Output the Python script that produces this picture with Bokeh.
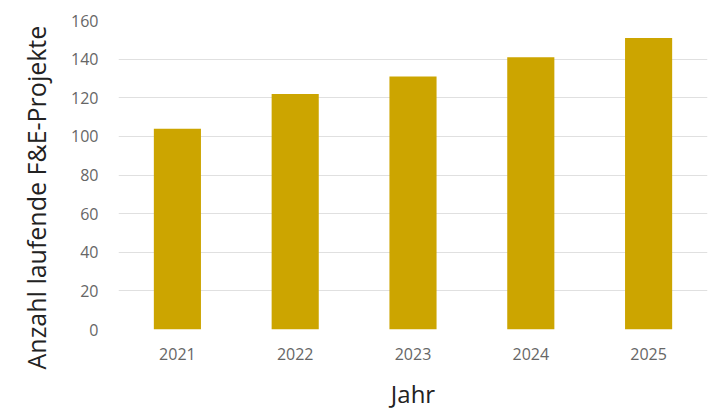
from bokeh.plotting import figure
from bokeh.models import FactorRange, Range1d, FixedTicker, ColumnDataSource, Title
from bokeh.embed import file_html
from bokeh.resources import INLINE

years = ["2021", "2022", "2023", "2024", "2025"]
projects = [104, 122, 131, 141, 151]
y_ticks = [0, 20, 40, 60, 80, 100, 120, 140, 160]

FONT = "Open Sans"

src = ColumnDataSource(dict(year=years, n=projects))

p = figure(width=712, height=412, output_backend="svg", toolbar_location=None,
           x_range=FactorRange(factors=years, range_padding=0),
           y_range=Range1d(0, 160),
           min_border_left=117, min_border_right=5, min_border_top=20, min_border_bottom=60)

p.vbar(x="year", top="n", width=0.4, source=src, color="#CCA500", line_color=None)

p.outline_line_color = None
p.xgrid.grid_line_color = None
p.ygrid.grid_line_color = "#e0e0e0"
p.ygrid.grid_line_width = 1
p.yaxis.ticker = FixedTicker(ticks=y_ticks)

for ax in (p.xaxis[0], p.yaxis[0]):
    ax.axis_line_color = None
    ax.major_tick_line_color = None
    ax.minor_tick_line_color = None
    ax.major_label_text_font = FONT
    ax.major_label_text_font_size = "16px"
    ax.major_label_text_color = "#666666"
    ax.axis_label_text_font = FONT
    ax.axis_label_text_font_size = "24px"
    ax.axis_label_text_font_style = "normal"
    ax.axis_label_text_color = "#222222"

p.xaxis.axis_label = "Jahr"
p.xaxis.major_label_standoff = 12
p.xaxis.axis_label_standoff = 14
p.yaxis.major_label_standoff = 14

ytitle = Title(text="Anzahl laufende F&E-Projekte", align="left", offset=-40,
               text_font=FONT, text_font_size="25px", text_font_style="normal",
               text_color="#222222", standoff=32)
p.add_layout(ytitle, "left")

open("out.html", "w").write(file_html(p, INLINE))
